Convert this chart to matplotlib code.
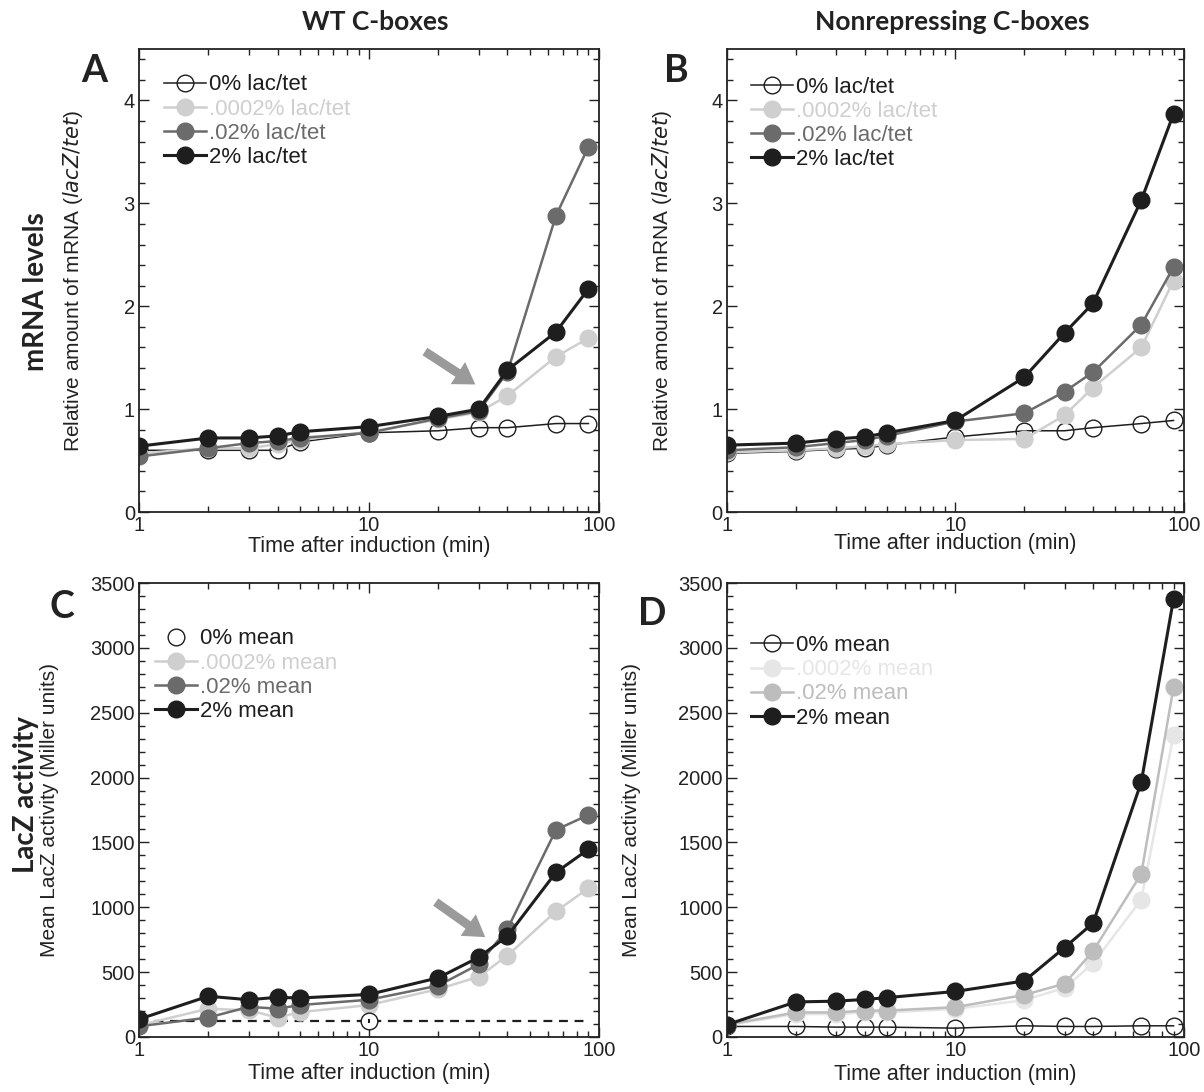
import numpy as np
import matplotlib
matplotlib.use("Agg")
import matplotlib.pyplot as plt
from matplotlib.ticker import FixedLocator, LogLocator, NullFormatter, MultipleLocator

plt.rcParams['font.family'] = ['Liberation Sans', 'DejaVu Sans']

# time points (min)
t = [1, 2, 3, 4, 5, 10, 20, 30, 40, 65, 90]

# A: mRNA, WT C-boxes
a_0 = [0.60, 0.60, 0.60, 0.60, 0.68, 0.77, 0.79, 0.82, 0.82, 0.86, 0.86]
a_0002 = [0.57, 0.62, 0.62, 0.66, 0.70, 0.78, 0.90, 0.97, 1.13, 1.51, 1.69]
a_02 = [0.54, 0.62, 0.67, 0.69, 0.72, 0.77, 0.91, 0.98, 1.36, 2.88, 3.55]
a_2 = [0.64, 0.72, 0.72, 0.74, 0.78, 0.83, 0.93, 1.00, 1.38, 1.75, 2.17]

# B: mRNA, nonrepressing C-boxes
b_0 = [0.57, 0.59, 0.61, 0.62, 0.65, 0.73, 0.79, 0.79, 0.82, 0.86, 0.89]
b_0002 = [0.58, 0.60, 0.62, 0.64, 0.66, 0.70, 0.71, 0.94, 1.21, 1.60, 2.25]
b_02 = [0.60, 0.63, 0.67, 0.70, 0.74, 0.88, 0.96, 1.17, 1.36, 1.82, 2.38]
b_2 = [0.65, 0.67, 0.71, 0.73, 0.77, 0.89, 1.31, 1.74, 2.03, 3.03, 3.87]

# C: LacZ, WT C-boxes (0% only measured at 10 min)
c_0_t = [10]
c_0 = [125]
c_0_err = [15]
c_baseline = 125
c_0002 = [90, 218, 205, 150, 191, 246, 369, 464, 628, 969, 1147]
c_02 = [82, 150, 232, 218, 246, 287, 396, 560, 833, 1597, 1712]
c_2 = [137, 314, 287, 306, 300, 328, 456, 614, 778, 1269, 1447]

# D: LacZ, nonrepressing C-boxes
d_0 = [81, 81, 76, 76, 76, 68, 86, 81, 81, 86, 86]
d_0002 = [90, 176, 176, 189, 189, 216, 284, 378, 568, 1059, 2330]
d_02 = [95, 189, 189, 203, 203, 230, 324, 411, 662, 1257, 2697]
d_2 = [95, 270, 276, 289, 303, 351, 432, 689, 878, 1965, 3378]

BLACK = '#1e1e1e'
DARK = '#6b6b6b'
LIGHT = '#cfcfcf'
D_LIGHT = '#e6e6e6'
D_MID = '#bdbdbd'
MS = 12
ARROW = dict(arrowstyle='simple,head_length=0.75,head_width=0.95,tail_width=0.32',
             color='#9a9a9a', lw=0, mutation_scale=20, shrinkA=0, shrinkB=0)


def style_axis(ax, ymax, major, minor, ylabel, ylab_x, xlab_y):
    ax.set_xscale('log')
    ax.set_xlim(1, 100)
    ax.set_ylim(0, ymax)
    ax.xaxis.set_major_locator(FixedLocator([1, 10, 100]))
    ax.set_xticklabels(['1', '10', '100'])
    ax.xaxis.set_minor_locator(LogLocator(base=10, subs=np.arange(2, 10)))
    ax.xaxis.set_minor_formatter(NullFormatter())
    ax.yaxis.set_major_locator(MultipleLocator(major))
    ax.yaxis.set_minor_locator(MultipleLocator(minor))
    ax.tick_params(which='both', direction='in', top=True, right=True,
                   labelsize=14.5, colors='#222222', pad=3)
    ax.tick_params(which='major', length=7, width=1)
    ax.tick_params(which='minor', length=4, width=1)
    for s in ax.spines.values():
        s.set_linewidth(1.3)
        s.set_color('#222222')
    ax.set_xlabel('Time after induction (min)', fontsize=15.5, color='#222222')
    ax.xaxis.set_label_coords(0.5, xlab_y)
    ax.set_ylabel(ylabel, fontsize=15, color='#222222')
    ax.yaxis.set_label_coords(ylab_x, 0.5)


def series(ax, y, color, label, lw=1.8, open_marker=False):
    if open_marker:
        ax.plot(t, y, '-o', color=BLACK, lw=1.1, ms=MS, mfc='none', mec=BLACK,
                mew=1.0, label=label)
    else:
        ax.plot(t, y, '-o', color=color, lw=lw, ms=MS, mfc=color, mec=color,
                label=label)


def legend(ax, x, y, colors=None):
    ax.legend(loc='upper left', bbox_to_anchor=(x, y), frameon=False,
              fontsize=16, borderpad=0, borderaxespad=0, handlelength=1.9,
              handletextpad=0.12, labelspacing=0.14,
              labelcolor=colors if colors else 'linecolor')


fig = plt.figure(figsize=(12.04, 10.92), dpi=100)
axA = fig.add_axes([0.1155, 0.5311, 0.382, 0.424])
axB = fig.add_axes([0.6038, 0.5311, 0.3796, 0.424])
axC = fig.add_axes([0.1155, 0.0504, 0.382, 0.4157])
axD = fig.add_axes([0.6038, 0.0504, 0.3796, 0.4157])

mrna_label = 'Relative amount of mRNA ($\\it{lacZ/tet}$)'
lacz_label = 'Mean LacZ activity (Miller units)'

# A
series(axA, a_0, BLACK, '0% lac/tet', open_marker=True)
series(axA, a_0002, LIGHT, '.0002% lac/tet')
series(axA, a_02, DARK, '.02% lac/tet')
series(axA, a_2, BLACK, '2% lac/tet', lw=2.2)
style_axis(axA, 4.5, 1, 0.2, mrna_label, -0.117, -0.052)
legend(axA, 0.054, 0.945)
axA.annotate('', xy=(29, 1.24), xytext=(17.5, 1.56), arrowprops=ARROW)

# B
series(axB, b_0, BLACK, '0% lac/tet', open_marker=True)
series(axB, b_0002, LIGHT, '.0002% lac/tet')
series(axB, b_02, DARK, '.02% lac/tet')
series(axB, b_2, BLACK, '2% lac/tet', lw=2.2)
style_axis(axB, 4.5, 1, 0.2, mrna_label, -0.116, -0.045)
legend(axB, 0.053, 0.94)

# C
axC.plot([t[0], t[-1]], [c_baseline, c_baseline], '--', color=BLACK, lw=1.6,
         dashes=(4, 3), zorder=1)
axC.errorbar(c_0_t, c_0, yerr=c_0_err, fmt='none', ecolor=BLACK,
             elinewidth=1.5, capsize=0, zorder=6)
axC.plot(c_0_t, c_0, 'o', ms=MS, mfc='white', mec=BLACK, mew=1.0,
         label='0% mean', zorder=5)
series(axC, c_0002, LIGHT, '.0002% mean')
series(axC, c_02, DARK, '.02% mean')
series(axC, c_2, BLACK, '2% mean', lw=2.2)
style_axis(axC, 3500, 500, 100, lacz_label, -0.173, -0.058)
legend(axC, 0.035, 0.9, colors=[BLACK, LIGHT, DARK, BLACK])
axC.annotate('', xy=(32, 770), xytext=(19.5, 1040), arrowprops=ARROW)

# D
series(axD, d_0, BLACK, '0% mean', open_marker=True)
series(axD, d_0002, D_LIGHT, '.0002% mean')
series(axD, d_02, D_MID, '.02% mean')
series(axD, d_2, BLACK, '2% mean', lw=2.2)
style_axis(axD, 3500, 500, 100, lacz_label, -0.188, -0.06)
legend(axD, 0.053, 0.885)

# panel letters and headers
for ax, letter, dx, dy in [(axA, 'A', -0.125, 0.99), (axB, 'B', -0.138, 0.99),
                           (axC, 'C', -0.195, 0.985), (axD, 'D', -0.195, 0.97)]:
    ax.text(dx, dy, letter, transform=ax.transAxes, fontsize=27,
            fontweight='bold', family='Lato', color='#222222', va='top', ha='left')

fig.text(375 / 1204, 1 - 22 / 1092, 'WT C-boxes', fontsize=19, fontweight='bold',
         family='Lato', color='#222222', ha='center', va='center')
fig.text(952 / 1204, 1 - 22 / 1092, 'Nonrepressing C-boxes', fontsize=19,
         fontweight='bold', family='Lato', color='#222222', ha='center', va='center')
fig.text(36 / 1204, 1 - 292 / 1092, 'mRNA levels', fontsize=20, fontweight='bold',
         family='Lato', color='#222222', rotation=90, ha='center', va='center')
fig.text(26 / 1204, 1 - 795 / 1092, 'LacZ activity', fontsize=20, fontweight='bold',
         family='Lato', color='#222222', rotation=90, ha='center', va='center')

fig.savefig('out.png', dpi=100)
